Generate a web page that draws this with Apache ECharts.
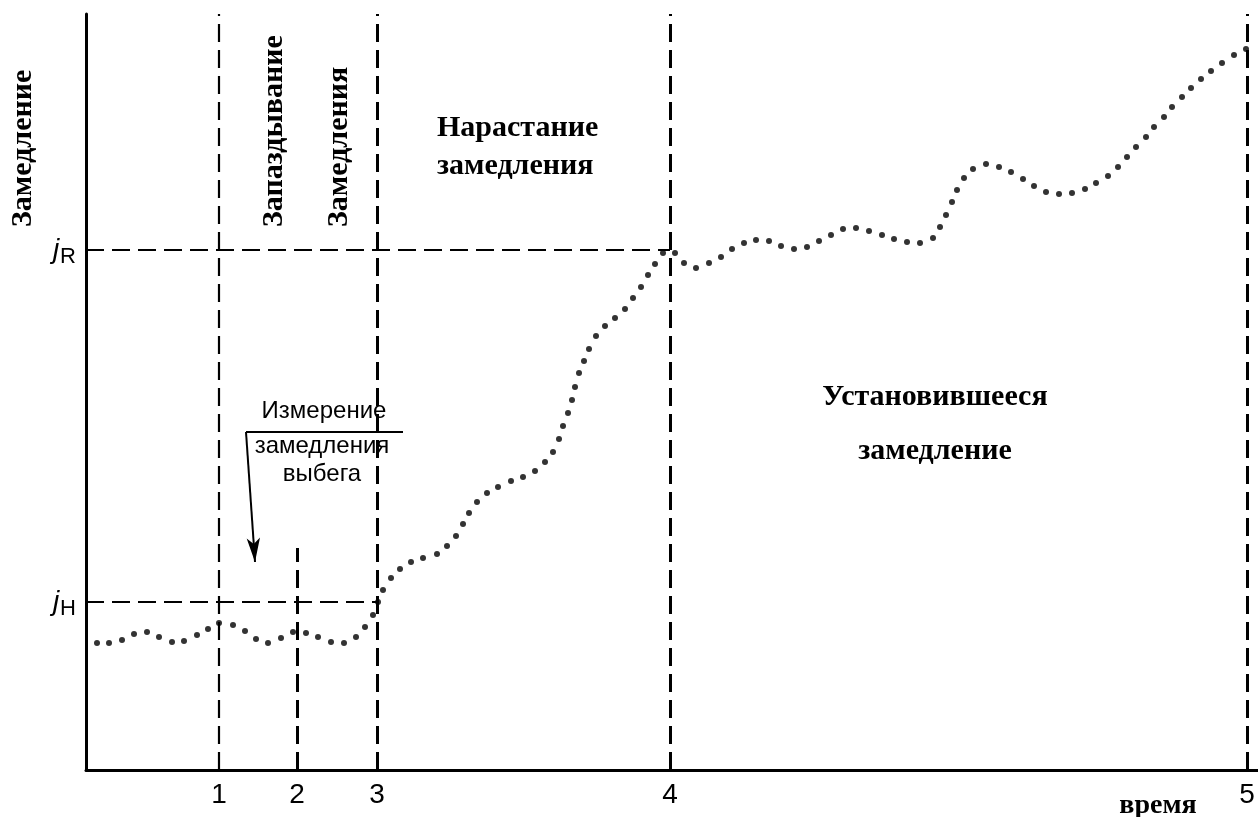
<!DOCTYPE html>
<html>
<head>
<meta charset="utf-8">
<style>
  html, body { margin: 0; padding: 0; background: #fff; }
  #chart { width: 1258px; height: 817px; }
</style>
<script src="https://cdn.jsdelivr.net/npm/echarts@6/dist/echarts.min.js"></script>
</head>
<body>
<div id="chart"></div>
<script>
// dotted trace: time from origin and deceleration (same arbitrary units as the axes)
const traceTime = [
  11, 23, 36, 48, 61, 73, 86, 98, 111, 122, 133, 147, 159, 170, 182, 195, 207, 220, 232, 245,
  258, 270, 279, 287, 292, 297, 305, 314, 325, 337, 351, 361, 370, 377, 383, 391, 401, 412, 425, 437,
  449, 459, 467, 473, 477, 482, 486, 489, 493, 498, 503, 510, 519, 529, 539, 547, 555, 562, 569, 577,
  589, 598, 610, 623, 635, 646, 658, 670, 683, 695, 708, 721, 733, 745, 757, 770, 783, 796, 808, 821,
  834, 847, 854, 860, 866, 871, 878, 887, 900, 913, 925, 937, 948, 960, 973, 986, 999, 1010, 1022, 1032,
  1041, 1050, 1060, 1068, 1078, 1086, 1096, 1105, 1115, 1125, 1136, 1148, 1160
];
const traceValue = [
  127, 127, 130, 136, 138, 133, 128, 129, 135, 141, 147, 145, 139, 131, 127, 132, 138, 137, 133, 128,
  127, 133, 143, 155, 168, 180, 192, 201, 208, 212, 216, 224, 234, 246, 257, 268, 277, 283, 289, 293,
  299, 308, 318, 331, 344, 357, 370, 383, 397, 409, 421, 434, 444, 452, 461, 472, 483, 495, 506, 517,
  517, 507, 502, 507, 513, 521, 527, 530, 529, 524, 521, 523, 529, 535, 541, 542, 539, 535, 531, 528,
  527, 532, 543, 555, 568, 580, 592, 601, 606, 603, 598, 591, 584, 578, 576, 577, 581, 587, 594, 603,
  613, 623, 633, 643, 653, 663, 673, 682, 691, 699, 707, 715, 721
];

// time marks 1..5 on the x axis
const timeTicks = [133, 211, 291, 584, 1161];
const timeTickLabels = ['1', '2', '3', '4', '5'];

// deceleration levels j_H and j_R on the y axis
const levelTicks = [168, 520];
const levelNames = ['H', 'R'];

// short guide at mark 2 starts here
const markTwoTop = 222;

// "Измерение замедления выбега" callout: bar and arrow
const calloutBar = [[160, 338], [317, 338]];
const calloutArrow = [[160, 338], [169, 208]];

const xMax = 1172;
const yMax = 756;

(function () {
  const chartEl = document.getElementById('chart');
  const chart = echarts.init(chartEl);

  const ink = '#000';
  const serif = '"Liberation Serif", "Times New Roman", serif';
  const sans = '"Liberation Sans", Arial, sans-serif';
  const thinDash = { color: ink, width: 2.2, type: [18, 8] };
  const thickDash = { color: ink, width: 3, type: [18, 8] };

  const points = traceTime.map((t, i) => [t, traceValue[i]]);

  const guides = [];
  [0, 2, 3, 4].forEach((i) => {
    guides.push([
      { coord: [timeTicks[i], 0], lineStyle: i === 0 ? thinDash : thickDash },
      { coord: [timeTicks[i], yMax] },
    ]);
  });
  guides.push([{ coord: [timeTicks[1], 0], lineStyle: thickDash }, { coord: [timeTicks[1], markTwoTop] }]);
  guides.push([{ coord: [0, levelTicks[1]] }, { coord: [timeTicks[3], levelTicks[1]] }]);
  guides.push([{ coord: [0, levelTicks[0]] }, { coord: [timeTicks[2], levelTicks[0]] }]);

  function serifText(text, x, y, opts) {
    return Object.assign({
      type: 'text',
      x,
      y,
      style: {
        text,
        fill: ink,
        fontFamily: serif,
        fontWeight: 'bold',
        fontSize: 30,
        align: 'left',
        verticalAlign: 'middle',
      },
    }, opts || {});
  }

  function sansText(text, x, y) {
    return {
      type: 'text',
      x,
      y,
      style: {
        text,
        fill: ink,
        fontFamily: sans,
        fontSize: 24,
        align: 'center',
        verticalAlign: 'middle',
      },
    };
  }

  const vertical = { rotation: Math.PI / 2 };
  const centered = (el, size) => {
    el.style.align = 'center';
    if (size) el.style.fontSize = size;
    return el;
  };

  chart.setOption({
    animation: false,
    backgroundColor: '#fff',
    grid: { left: 86, right: 0, top: 14, bottom: 47 },
    xAxis: {
      type: 'value',
      min: 0,
      max: xMax,
      axisLine: { show: true, onZero: false, lineStyle: { color: ink, width: 3 } },
      axisTick: { show: false },
      splitLine: { show: false },
      axisLabel: {
        customValues: timeTicks,
        formatter: (v) => timeTickLabels[timeTicks.indexOf(v)] || '',
        color: ink,
        fontFamily: sans,
        fontSize: 28,
        margin: 11,
      },
    },
    yAxis: {
      type: 'value',
      min: 0,
      max: yMax,
      axisLine: { show: true, onZero: false, lineStyle: { color: ink, width: 3 } },
      axisTick: { show: false },
      splitLine: { show: false },
      axisLabel: {
        customValues: levelTicks,
        formatter: (v) => '{j|j}{s|' + (levelNames[levelTicks.indexOf(v)] || '') + '}',
        margin: 10,
        rich: {
          j: { fontFamily: sans, fontStyle: 'italic', fontSize: 28, color: ink, padding: [0, 1, 0, 0] },
          s: { fontFamily: sans, fontSize: 22, color: ink, padding: [14, 0, 0, 0] },
        },
      },
    },
    series: [
      {
        type: 'scatter',
        data: points,
        symbol: 'circle',
        symbolSize: 6,
        itemStyle: { color: ink },
        silent: true,
        markLine: {
          silent: true,
          animation: false,
          symbol: 'none',
          label: { show: false },
          lineStyle: thinDash,
          data: guides.concat([
            [
              { coord: calloutBar[0], lineStyle: { type: 'solid', width: 2, color: ink } },
              { coord: calloutBar[1] },
            ],
            [
              { coord: calloutArrow[0], lineStyle: { type: 'solid', width: 2, color: ink } },
              { coord: calloutArrow[1], symbol: 'arrow', symbolSize: [10, 24] },
            ],
          ]),
        },
      },
    ],
    graphic: [
      serifText('Замедление', 23, 227, vertical),
      serifText('Запаздывание', 274, 227, vertical),
      serifText('Замедления', 339, 227, vertical),
      serifText('Нарастание', 437, 128),
      serifText('замедления', 437, 166),
      centered(serifText('Установившееся', 935, 397)),
      centered(serifText('замедление', 935, 451)),
      sansText('Измерение', 324, 411),
      sansText('замедления', 322, 446),
      sansText('выбега', 322, 474),
      centered(serifText('время', 1158, 806), 28),
    ],
  });

  window.addEventListener('resize', () => chart.resize());
})();
</script>
</body>
</html>
